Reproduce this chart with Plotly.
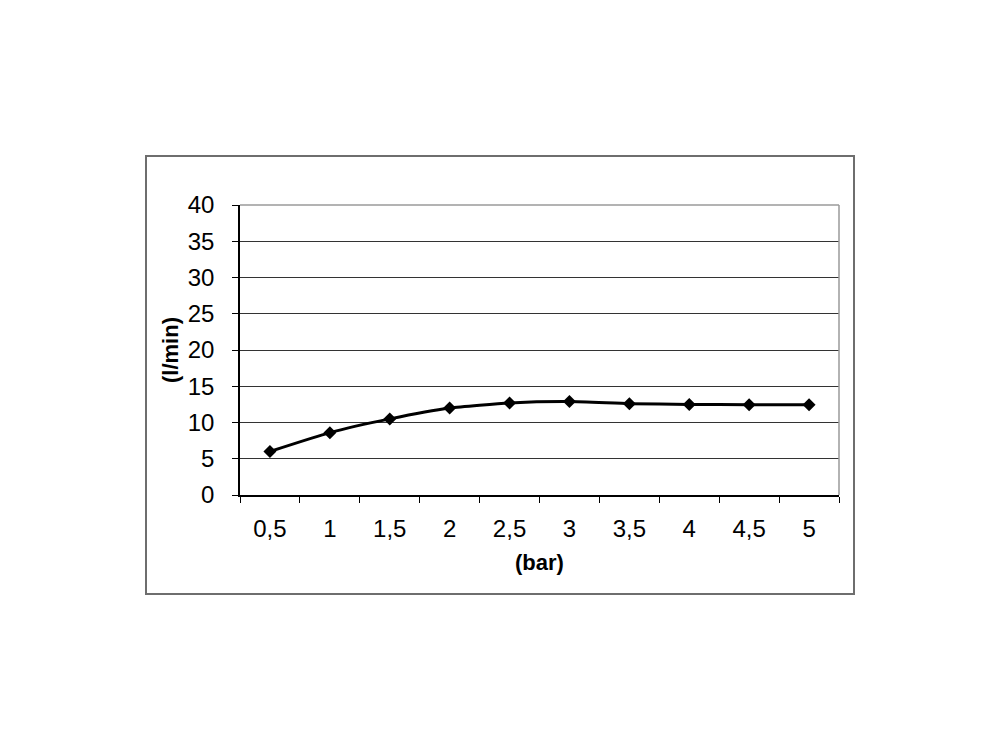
import plotly.graph_objects as go

pressure_labels = ["0,5", "1", "1,5", "2", "2,5", "3", "3,5", "4", "4,5", "5"]
flow_values = [6.0, 8.6, 10.5, 12.0, 12.7, 12.9, 12.6, 12.5, 12.45, 12.45]
y_ticks = [0, 5, 10, 15, 20, 25, 30, 35, 40]

W, H = 1000, 750
OFF = 8  # page body offset
PL, PR, PT, PB = 240 - OFF, 839 - OFF, 205 - OFF, 495 - OFF

def px_x(x):
    return (x - OFF - PL) / (PR - PL)

def px_y(y):
    return (PB - (y - OFF)) / (PB - PT)

fig = go.Figure()
fig.add_trace(go.Scatter(
    x=pressure_labels, y=flow_values, mode="lines+markers",
    line=dict(color="black", width=3, shape="spline", smoothing=0.5),
    marker=dict(symbol="diamond", size=10, color="black"),
    showlegend=False, hoverinfo="skip",
))

font = "Liberation Sans, Arial, sans-serif"
fig.update_layout(
    width=W, height=H,
    margin=dict(l=PL, r=W - PR, t=PT, b=H - PB, pad=0),
    paper_bgcolor="white", plot_bgcolor="white",
    font=dict(family=font, size=24, color="black"),
    xaxis=dict(
        type="category", range=[-0.5, 9.5], showgrid=False,
        showline=True, linecolor="black", linewidth=1.5,
        ticks="outside", tickson="boundaries", ticklen=6, tickcolor="black",
        tickfont=dict(size=24, family=font), ticklabelstandoff=11,
        title=dict(text="<b>(bar)</b>", font=dict(size=22, family=font), standoff=14),
        zeroline=False, fixedrange=True,
    ),
    yaxis=dict(
        range=[0, 40], tickvals=y_ticks, showgrid=True, gridcolor="#333333", gridwidth=1,
        showline=True, linecolor="black", linewidth=1.5,
        ticks="outside", ticklen=6, tickcolor="black",
        tickfont=dict(size=24, family=font), ticklabelstandoff=13,
        title=dict(text="<b>(l/min)</b>", font=dict(size=22, family=font), standoff=3),
        zeroline=False, fixedrange=True,
    ),
    shapes=[
        dict(type="rect", xref="paper", yref="paper",
             x0=px_x(146), x1=px_x(854), y0=px_y(594), y1=px_y(156),
             line=dict(color="#6e6e6e", width=2), layer="below"),
        dict(type="line", xref="paper", yref="paper", x0=0, x1=1, y0=1, y1=1,
             line=dict(color="#9a9a9a", width=1.5), layer="above"),
        dict(type="line", xref="paper", yref="paper", x0=1, x1=1, y0=0, y1=1,
             line=dict(color="#9a9a9a", width=1.5), layer="above"),
    ],
)

fig.write_html("out.html")
